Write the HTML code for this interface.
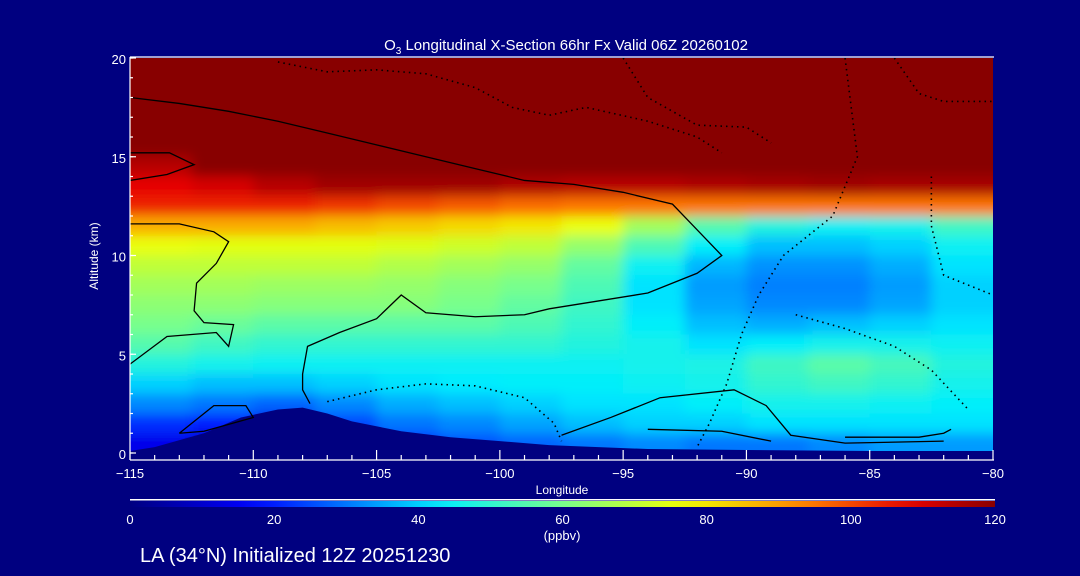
<!DOCTYPE html>
<html><head><meta charset="utf-8">
<style>
html,body{margin:0;padding:0;background:#000080;}
svg{display:block;font-family:"Liberation Sans",sans-serif;}
</style></head>
<body>
<svg id="chart" width="1080" height="576" viewBox="0 0 1080 576" xmlns="http://www.w3.org/2000/svg">
<defs>
<clipPath id="plotclip"><rect x="130" y="58" width="863" height="395"/></clipPath>
<filter id="smooth" x="-5%" y="-5%" width="110%" height="110%"><feGaussianBlur stdDeviation="6" edgeMode="duplicate"/></filter>
<linearGradient id="cbgrad" x1="0" x2="1" y1="0" y2="0"></linearGradient>
</defs>
<rect x="0" y="0" width="1080" height="576" fill="#000080"/>
<g id="heat" clip-path="url(#plotclip)"><g id="cells" filter="url(#smooth)"></g></g>
<g id="terrain" clip-path="url(#plotclip)"></g>
<g id="contours" clip-path="url(#plotclip)"></g>
<g id="axes"></g>
<text x="566" y="50" fill="#fff" font-size="15" text-anchor="middle">O<tspan font-size="10" dy="4">3</tspan><tspan dy="-4"> Longitudinal X-Section 66hr  Fx Valid 06Z 20260102</tspan></text>
<text x="98" y="256" fill="#fff" font-size="12" text-anchor="middle" transform="rotate(-90 98 256)">Altitude (km)</text>
<text x="562" y="494" fill="#fff" font-size="12" text-anchor="middle">Longitude</text>
<rect x="130" y="499" width="865" height="1.5" fill="#fff"/>
<rect x="130" y="501" width="865" height="6" fill="url(#cbgrad)"/>
<g id="cblabels"></g>
<text x="562" y="540" fill="#fff" font-size="13" text-anchor="middle">(ppbv)</text>
<text x="140" y="562" fill="#fff" font-size="20">LA (34°N) Initialized 12Z 20251230</text>
</svg>
<script>
const lons = [-113.75,-111.25,-108.75,-106.25,-103.75,-101.25,-98.75,-96.25,-93.75,-91.25,-88.75,-86.25,-83.75,-81.25];
const alts = [19.5,18.5,17.5,16.5,15.5,14.5,13.5,12.5,11.5,10.5,9.5,8.5,7.5,6.5,5.5,4.5,3.5,2.5,1.5,0.5];
const ozone = [
[120,120,120,120,120,120,120,120,120,120,120,120,120,120],
[120,120,120,120,120,120,120,120,120,120,120,120,120,120],
[120,120,120,120,120,120,120,120,120,120,120,120,120,120],
[120,120,120,120,120,120,120,120,120,120,120,120,120,120],
[120,120,120,120,120,120,120,120,120,120,120,120,120,120],
[114,120,120,120,120,120,120,120,120,120,120,120,120,120],
[108,110,114,117,117,117,115,114,114,115,116,117,116,116],
[104,104,104,102,100,98,96,95,95,95,95,95,95,95],
[88,88,88,86,84,82,80,76,66,55,48,45,46,52],
[76,75,75,75,74,72,70,64,54,44,38,38,40,45],
[70,70,70,70,68,66,64,57,45,37,33,33,36,42],
[66,66,65,65,64,62,60,54,42,34,31,31,34,40],
[63,63,62,62,62,60,57,52,42,35,32,32,35,40],
[60,58,56,56,56,56,54,50,44,38,36,38,40,42],
[55,52,50,50,50,50,50,48,46,42,44,46,46,45],
[48,46,45,45,45,45,45,45,46,47,52,56,53,48],
[40,38,38,40,42,43,44,44,45,46,50,52,50,46],
[32,30,28,32,36,38,40,42,42,44,46,46,45,44],
[22,20,14,25,30,32,35,38,40,40,42,42,42,42],
[14,10,8,14,22,26,28,30,32,30,30,32,34,34]];
const terrainLon = [-115,-114,-112,-110.5,-109,-108,-107,-106,-104,-102,-100,-98,-96,-94,-90,-85,-80,-80,-115];
const terrainAlt = [0.1,0.3,1.0,1.8,2.2,2.3,2.0,1.6,1.1,0.8,0.6,0.4,0.3,0.2,0.15,0.1,0.1,-1,-1];
const contourSolid = [
 [[-115,18],[-113,17.7],[-111,17.3],[-109,16.8],[-107,16.2],[-105,15.6],[-103,15],[-101,14.4],[-100,14.1],[-99,13.8],[-97,13.6],[-95,13.2],[-93,12.6],[-92,11.3],[-91,10],[-92,9.1],[-94,8.1],[-96,7.7],[-98,7.3],[-99,7],[-101,6.9],[-103,7.1],[-104,8],[-105,6.8],[-106.5,6.1],[-107.8,5.4],[-108,4],[-108,3.2],[-107.7,2.5]],
 [[-115,4.5],[-113.5,5.9],[-111.5,6.1],[-111,5.4],[-110.8,6.5],[-112,6.6],[-112.4,7.2],[-112.3,8.6],[-111.5,9.6],[-111,10.7],[-111.6,11.2],[-113,11.6],[-115,11.6]],
 [[-115,15.2],[-113.4,15.2],[-112.4,14.6],[-113.5,14.1],[-115,13.8]],
 [[-113,1.0],[-111.6,2.4],[-110.3,2.4],[-110,1.8],[-112,1.1],[-113,1.0]],
 [[-97.5,0.9],[-95.5,1.8],[-93.5,2.8],[-90.5,3.2],[-89.2,2.4],[-88.2,0.9],[-86,0.5],[-82,0.6]],
 [[-94,1.2],[-91,1.1],[-89,0.6]],
 [[-86,0.8],[-83,0.8],[-82,1.0],[-81.7,1.2]]];
const contourDotted = [
 [[-109,19.8],[-107,19.3],[-105,19.4],[-103,19.2],[-101,18.5],[-99.5,17.5],[-98,17.1],[-96.5,17.5],[-94,16.8],[-92,16],[-91,15.2]],
 [[-95,20],[-94,18],[-92,16.6],[-90,16.5],[-89,15.7]],
 [[-86,20],[-85.5,15],[-86.5,12],[-88.5,10],[-89.5,8],[-90.2,6],[-90.8,3.5],[-91.5,1.5],[-92,0.3]],
 [[-84,20],[-83,18.2],[-82,17.8],[-80,17.8]],
 [[-82.5,14],[-82.5,11.5],[-82,9],[-80,8]],
 [[-88,7],[-86,6.3],[-84,5.4],[-82.5,4.2],[-81,2.2]],
 [[-107,2.6],[-105,3.2],[-103,3.5],[-101,3.4],[-99,2.8],[-97.8,1.5],[-97.5,0.6]]];
const xTicks = [-115,-110,-105,-100,-95,-90,-85,-80];
const xTickLabels = ["\u2212115","\u2212110","\u2212105","\u2212100","\u221295","\u221290","\u221285","\u221280"];
const yTicks = [0,5,10,15,20];
const cbTicks = [0,20,40,60,80,100,120];

const X0=130,X1=993,Y0=453,Y1=58;
function xs(l){return X0+(l+115)/35*(X1-X0);}
function ys(a){return Y0-a/20*(Y0-Y1);}
function cmap(v){
  const t=Math.max(0,Math.min(1,v/120));
  const stops=[[0,0,0,128],[0.14,0,0,255],[0.36,0,238,255],[0.5,120,255,140],[0.64,240,255,0],[0.78,255,130,0],[0.9,230,0,0],[1,136,0,0]];
  for(let i=1;i<stops.length;i++){if(t<=stops[i][0]){const a=stops[i-1],b=stops[i];const f=(t-a[0])/(b[0]-a[0]);
    return `rgb(${Math.round(a[1]+f*(b[1]-a[1]))},${Math.round(a[2]+f*(b[2]-a[2]))},${Math.round(a[3]+f*(b[3]-a[3]))})`;}}
  return 'rgb(136,0,0)';
}
const NS='http://www.w3.org/2000/svg';
const cells=document.getElementById('cells');
const dLon=2.5,dAlt=1;
for(let r=0;r<alts.length;r++){for(let c=0;c<lons.length;c++){
  const el=document.createElementNS(NS,'rect');
  let x0=xs(lons[c]-dLon/2),x1=xs(lons[c]+dLon/2),yT=ys(alts[r]+dAlt/2),yB=ys(alts[r]-dAlt/2);
  if(c===0)x0-=30; if(c===lons.length-1)x1+=30; if(r===0)yT-=30; if(r===alts.length-1)yB+=30;
  el.setAttribute('x',x0);el.setAttribute('y',yT);el.setAttribute('width',x1-x0+0.5);el.setAttribute('height',yB-yT+0.5);
  el.setAttribute('fill',cmap(ozone[r][c]));
  
  
  cells.appendChild(el);
}}
const ter=document.createElementNS(NS,'polygon');
ter.setAttribute('points',terrainLon.map((l,i)=>xs(l)+','+ys(terrainAlt[i])).join(' '));
ter.setAttribute('fill','#000080');


document.getElementById('terrain').appendChild(ter);
const cg=document.getElementById('contours');
function addLine(pts,dotted){
  const p=document.createElementNS(NS,'polyline');
  p.setAttribute('points',pts.map(q=>xs(q[0])+','+ys(q[1])).join(' '));
  p.setAttribute('fill','none');p.setAttribute('stroke','#000');p.setAttribute('stroke-width',dotted?1.6:1.3);
  if(dotted)p.setAttribute('stroke-dasharray','1.5 4');
  
  
  cg.appendChild(p);
}
contourSolid.forEach(c=>addLine(c,false));
contourDotted.forEach(c=>addLine(c,true));
const ax=document.getElementById('axes');
function line(x1,y1,x2,y2,name){const l=document.createElementNS(NS,'line');l.setAttribute('x1',x1);l.setAttribute('y1',y1);l.setAttribute('x2',x2);l.setAttribute('y2',y2);l.setAttribute('stroke','#fff');l.setAttribute('stroke-width',1.2);
  
  
  ax.appendChild(l);}
function txt(x,y,s,anchor,size,name){const t=document.createElementNS(NS,'text');t.setAttribute('x',x);t.setAttribute('y',y);t.setAttribute('fill','#fff');t.setAttribute('font-size',size);t.setAttribute('text-anchor',anchor);t.textContent=s;
  
  
  return t;}
line(X0,57,994,57,'top-axis');
line(X0,460,994,460,'x-axis');
line(X0,57,X0,460,'y-axis');
for(let l=-115;l<=-80;l++){const major=(l%5===0);line(xs(l),major?450:455,xs(l),460,'x-tick');}
xTicks.forEach((l,i)=>ax.appendChild(txt(xs(l),478,xTickLabels[i],'middle',13,'x-tick-label')));
yTicks.forEach(a=>{line(X0,ys(a),X0+6,ys(a),'y-tick');ax.appendChild(txt(X0-4,Math.min(ys(a)+6,460),String(a),'end',13,'y-tick-label'));});
for(let a=0;a<=20;a++){line(X0,ys(a),X0+3,ys(a),'y-minor-tick');}
const grad=document.getElementById('cbgrad');
for(let i=0;i<=24;i++){const s=document.createElementNS(NS,'stop');s.setAttribute('offset',i/24);s.setAttribute('stop-color',cmap(i*5));grad.appendChild(s);}
const cbl=document.getElementById('cblabels');
cbTicks.forEach(v=>cbl.appendChild(txt(130+v/120*865,524,String(v),'middle',13,'colorbar-tick-label')));
</script>
</body></html>
